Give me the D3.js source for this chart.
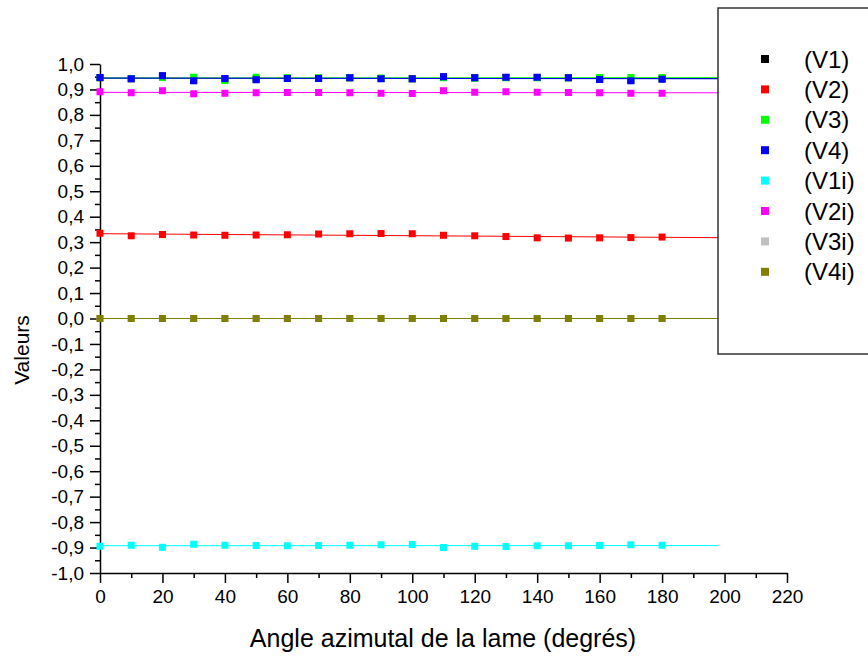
<!DOCTYPE html>
<meta charset="utf-8">
<style>
body { margin: 0; background: #fff; }
svg text { font-family: "Liberation Sans", Arial, sans-serif !important; fill: #000; }
.axis path, .axis line { stroke: #000; stroke-width: 1.5px; }
.axis text { font-size: 19px; }
.fit { fill: none; stroke-width: 1px; }
</style>
<svg id="chart" width="868" height="658"></svg>
<script src="https://cdn.jsdelivr.net/npm/d3@7"></script>
<script>
// angles (degrees)
var angles = [0, 10, 20, 30, 40, 50, 60, 70, 80, 90, 100, 110, 120, 130, 140, 150, 160, 170, 180];

var seriesNames = ["(V1)", "(V2)", "(V3)", "(V4)", "(V1i)", "(V2i)", "(V3i)", "(V4i)"];
var seriesColors = ["#000000", "#ff0000", "#00ff00", "#0000ff", "#00ffff", "#ff00ff", "#c0c0c0", "#808000"];

var v1  = [0.946, 0.942, 0.953, 0.936, 0.942, 0.940, 0.944, 0.944, 0.946, 0.943, 0.942, 0.949, 0.946, 0.947, 0.947, 0.946, 0.941, 0.937, 0.942];
var v2  = [0.335, 0.325, 0.330, 0.328, 0.327, 0.328, 0.329, 0.332, 0.333, 0.334, 0.333, 0.327, 0.325, 0.322, 0.317, 0.316, 0.317, 0.318, 0.320];
var v3  = [0.947, 0.943, 0.947, 0.948, 0.935, 0.948, 0.946, 0.946, 0.946, 0.945, 0.942, 0.946, 0.944, 0.946, 0.946, 0.946, 0.947, 0.947, 0.947];
var v4  = [0.947, 0.942, 0.954, 0.934, 0.943, 0.938, 0.943, 0.943, 0.946, 0.942, 0.942, 0.950, 0.946, 0.948, 0.948, 0.946, 0.939, 0.934, 0.940];
var v1i = [-0.895, -0.891, -0.899, -0.887, -0.891, -0.892, -0.893, -0.892, -0.891, -0.889, -0.888, -0.900, -0.895, -0.896, -0.893, -0.893, -0.892, -0.889, -0.891];
var v2i = [0.891, 0.887, 0.895, 0.883, 0.885, 0.887, 0.888, 0.888, 0.887, 0.885, 0.884, 0.895, 0.889, 0.891, 0.889, 0.888, 0.887, 0.885, 0.885];
var v3i = [0, 0, 0, 0, 0, 0, 0, 0, 0, 0, 0, 0, 0, 0, 0, 0, 0, 0, 0];
var v4i = [0, 0, 0, 0, 0, 0, 0, 0, 0, 0, 0, 0, 0, 0, 0, 0, 0, 0, 0];

var seriesValues = [v1, v2, v3, v4, v1i, v2i, v3i, v4i];

var xTicks = [0, 20, 40, 60, 80, 100, 120, 140, 160, 180, 200, 220];
var yTicks = [-1.0, -0.9, -0.8, -0.7, -0.6, -0.5, -0.4, -0.3, -0.2, -0.1, 0.0, 0.1, 0.2, 0.3, 0.4, 0.5, 0.6, 0.7, 0.8, 0.9, 1.0];
var fitEnd = 198;

var svg = d3.select("#chart");

var x = d3.scaleLinear().domain([0, 220]).range([100, 787]),
    y = d3.scaleLinear().domain([-1, 1]).range([573, 64]);

var fmt = function(d) { return d3.format(".1f")(d).replace(".", ",").replace("−", "-"); };

// minor ticks
svg.append("g")
    .attr("class", "axis")
    .attr("transform", "translate(100,0)")
    .call(d3.axisLeft(y).tickValues(d3.range(-0.95, 1, 0.1)).tickSize(5).tickFormat(""))
    .select(".domain").remove();
svg.append("g")
    .attr("class", "axis")
    .attr("transform", "translate(0,573)")
    .call(d3.axisBottom(x).tickValues(d3.range(10, 220, 20)).tickSize(5).tickFormat(""))
    .select(".domain").remove();

// major axes
var yAxis = svg.append("g")
    .attr("class", "axis")
    .attr("transform", "translate(100,0)")
    .call(d3.axisLeft(y).tickValues(yTicks).tickSize(10).tickSizeOuter(0).tickFormat(fmt));
yAxis.attr("font-size", 19);
yAxis.selectAll("text").attr("x", -16);

var xAxis = svg.append("g")
    .attr("class", "axis")
    .attr("transform", "translate(0,573)")
    .call(d3.axisBottom(x).tickValues(xTicks).tickSize(10).tickSizeOuter(0).tickFormat(d3.format("d")));
xAxis.attr("font-size", 19);
xAxis.selectAll("text").attr("y", 17);

// axis titles
svg.append("text")
    .attr("transform", "translate(29,350) rotate(-90)")
    .attr("text-anchor", "middle")
    .style("font-size", "21px")
    .text("Valeurs");

svg.append("text")
    .attr("x", 443)
    .attr("y", 647)
    .attr("text-anchor", "middle")
    .style("font-size", "25px")
    .text("Angle azimutal de la lame (degrés)");

// series: linear fit + square markers
var series = seriesNames.map(function(name, i) {
  var vals = seriesValues[i];
  var mx = d3.mean(angles), my = d3.mean(vals);
  var sxy = d3.sum(angles, function(a, k) { return (a - mx) * (vals[k] - my); });
  var sxx = d3.sum(angles, function(a) { return (a - mx) * (a - mx); });
  var slope = sxy / sxx, icpt = my - slope * mx;
  return {
    name: name,
    color: seriesColors[i],
    points: angles.map(function(a, k) { return {a: a, v: vals[k]}; }),
    fit: [{a: 0, v: icpt}, {a: fitEnd, v: icpt + slope * fitEnd}]
  };
});

var line = d3.line()
    .x(function(d) { return x(d.a); })
    .y(function(d) { return y(d.v); });

var g = svg.selectAll(".series")
    .data(series)
  .enter().append("g")
    .attr("class", "series");

g.append("path")
    .attr("class", "fit")
    .attr("d", function(d) { return line(d.fit); })
    .style("stroke", function(d) { return d.color; });

var ms = 7;
g.selectAll("rect")
    .data(function(d) { return d.points.map(function(p) { return {a: p.a, v: p.v, color: d.color}; }); })
  .enter().append("rect")
    .attr("x", function(d) { return x(d.a) - ms / 2; })
    .attr("y", function(d) { return y(d.v) - ms / 2; })
    .attr("width", ms)
    .attr("height", ms)
    .attr("fill", function(d) { return d.color; });

// legend
var legend = svg.append("g");
legend.append("rect")
    .attr("x", 718)
    .attr("y", 8)
    .attr("width", 160)
    .attr("height", 346)
    .attr("fill", "#fff")
    .attr("stroke", "#333")
    .attr("stroke-width", 1.5);

var li = legend.selectAll(".li")
    .data(series)
  .enter().append("g")
    .attr("transform", function(d, i) { return "translate(0," + (59 + i * 30.4) + ")"; });

li.append("rect")
    .attr("x", 761)
    .attr("y", -4)
    .attr("width", 8)
    .attr("height", 8)
    .attr("fill", function(d) { return d.color; });

li.append("text")
    .attr("x", 804)
    .attr("dy", "0.36em")
    .style("font-size", "24px")
    .text(function(d) { return d.name; });
</script>
